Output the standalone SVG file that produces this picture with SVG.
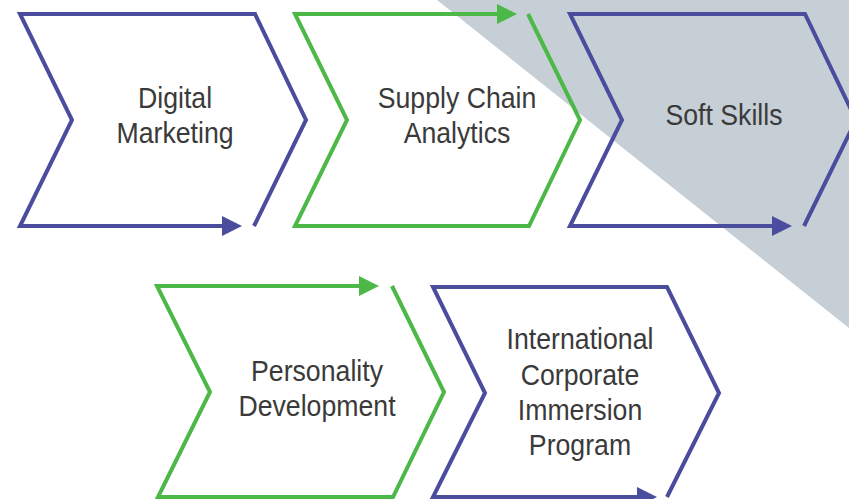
<svg xmlns="http://www.w3.org/2000/svg" width="849" height="499" viewBox="0 0 849 499">
<style>
.blue{fill:none;stroke:#4a4c9e;stroke-width:4;stroke-linejoin:miter;stroke-miterlimit:10}
.green{fill:none;stroke:#4cb848;stroke-width:4;stroke-linejoin:miter;stroke-miterlimit:10}
.bh{fill:#4a4c9e}
.gh{fill:#4cb848}
.t{font-family:"Liberation Sans",Arial,sans-serif;font-size:29px;fill:#3a3a3a;text-anchor:middle}
</style>
<rect width="849" height="499" fill="#ffffff"/>
<polygon points="437,0 849,0 849,328" fill="#c6ced6"/>
<g id="digital-marketing">
<path class="blue" d="M254,226 L306,120 L255,14 L20,14 L72,120 L20,226 L226,226"/>
<polygon class="bh" points="222,216 242,226 222,236"/>
<g transform="translate(175,0) scale(0.92,1)"><text class="t" x="0" y="108">Digital</text><text class="t" x="0" y="143">Marketing</text></g>
</g>
<g id="supply-chain-analytics">
<path class="green" d="M528,14 L580,120 L529,226 L295,226 L347,120 L295,14 L501,14"/>
<polygon class="gh" points="497,4 517,14 497,24"/>
<g transform="translate(457,0) scale(0.92,1)"><text class="t" x="0" y="108">Supply Chain</text><text class="t" x="0" y="143">Analytics</text></g>
</g>
<g id="soft-skills">
<path class="blue" d="M804,226 L856,120 L805,14 L570,14 L622,120 L570,226 L776,226"/>
<polygon class="bh" points="772,216 792,226 772,236"/>
<g transform="translate(724,0) scale(0.92,1)"><text class="t" x="0" y="125">Soft Skills</text></g>
</g>
<g id="personality-development">
<path class="green" d="M392,286 L444,392 L393,497 L158,497 L210,392 L157,286 L363,286"/>
<polygon class="gh" points="359,276 379,286 359,296"/>
<g transform="translate(317,0) scale(0.92,1)"><text class="t" x="0" y="381">Personality</text><text class="t" x="0" y="416">Development</text></g>
</g>
<g id="international-corporate-immersion-program">
<path class="blue" d="M667,497 L719,393 L667,287 L433,287 L485,393 L433,497 L641,497"/>
<polygon class="bh" points="637,487 657,497 637,507"/>
<g transform="translate(580,0) scale(0.92,1)"><text class="t" x="0" y="349">International</text><text class="t" x="0" y="385">Corporate</text><text class="t" x="0" y="420">Immersion</text><text class="t" x="0" y="455">Program</text></g>
</g>
<g id="connectors"></g>
</svg>
